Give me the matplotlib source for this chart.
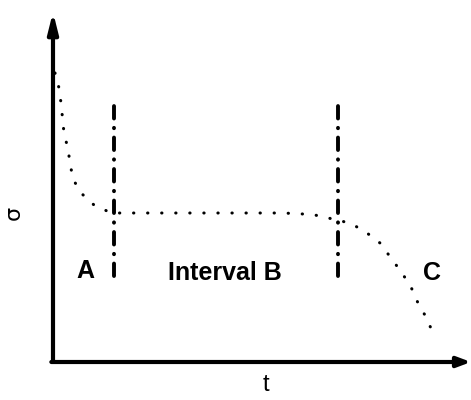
import numpy as np
from matplotlib import pyplot as plt

# Kurva tegangan (sigma) terhadap waktu t
t_kurva = [2, 6, 8, 11, 15, 17, 20, 28, 41, 54, 60, 70, 84, 95, 110, 130, 150,
           170, 190, 210, 230, 250, 262, 270, 285, 299, 314, 327, 338, 349, 358,
           365, 373, 380]
sigma_kurva = [289, 274, 259, 229, 213, 199, 183, 169, 157, 151, 149, 149, 149,
               149, 149, 149, 149, 149, 149, 149, 149, 148, 147, 145, 142, 138,
               129, 119, 104, 89, 75, 59, 45, 29]

# Batas interval A | B | C
batas_t = [61, 285]
batas_sigma = [86, 264]

# Label daerah
label_teks = ['A', 'Interval B', 'C']
label_t = [32, 172, 379]
label_sigma = [91, 89, 89]

fig = plt.figure(figsize=(4.71, 4.00), dpi=100)
ax = fig.add_axes([53 / 471, 38 / 400, 418 / 471, 350 / 400])
ax.set_xlim(0, 418)
ax.set_ylim(0, 350)
for s in ax.spines.values():
    s.set_visible(False)
ax.set_xticks([])
ax.set_yticks([])

# Sumbu dengan panah
ax.annotate('', xy=(0, 1.0), xytext=(0, 0), xycoords='axes fraction',
            arrowprops=dict(arrowstyle='-|>,head_length=1.2,head_width=0.3',
                            lw=3, color='black', shrinkA=0, shrinkB=0),
            annotation_clip=False)
ax.annotate('', xy=(1.0, 0), xytext=(-0.004, 0), xycoords='axes fraction',
            arrowprops=dict(arrowstyle='-|>,head_length=0.8,head_width=0.3',
                            lw=3, color='black', shrinkA=0, shrinkB=0),
            annotation_clip=False)

# Kurva bertitik
garis, = ax.plot(t_kurva, sigma_kurva, color='black', lw=2.2,
                 linestyle=(0, (0.1, 4.5)), dash_capstyle='round')

# Garis batas titik-strip
for tb in batas_t:
    ax.plot([tb, tb], batas_sigma, color='black', lw=2.8,
            linestyle=(0, (3.2, 2.4, 0.1, 2.4)), dash_capstyle='round')

for teks, x, y in zip(label_teks, label_t, label_sigma):
    ax.text(x, y, teks, fontsize=18, fontweight='bold', family='Liberation Sans',
            ha='center', va='center')

fig.text(14 / 471, 1 - 213 / 400, 'σ', fontsize=16, rotation=90,
         ha='center', va='center', family='DejaVu Sans')
fig.text(266 / 471, 1 - 385 / 400, 't', fontsize=17,
         ha='center', va='center', family='Liberation Sans')

fig.savefig('out.png', dpi=100)
